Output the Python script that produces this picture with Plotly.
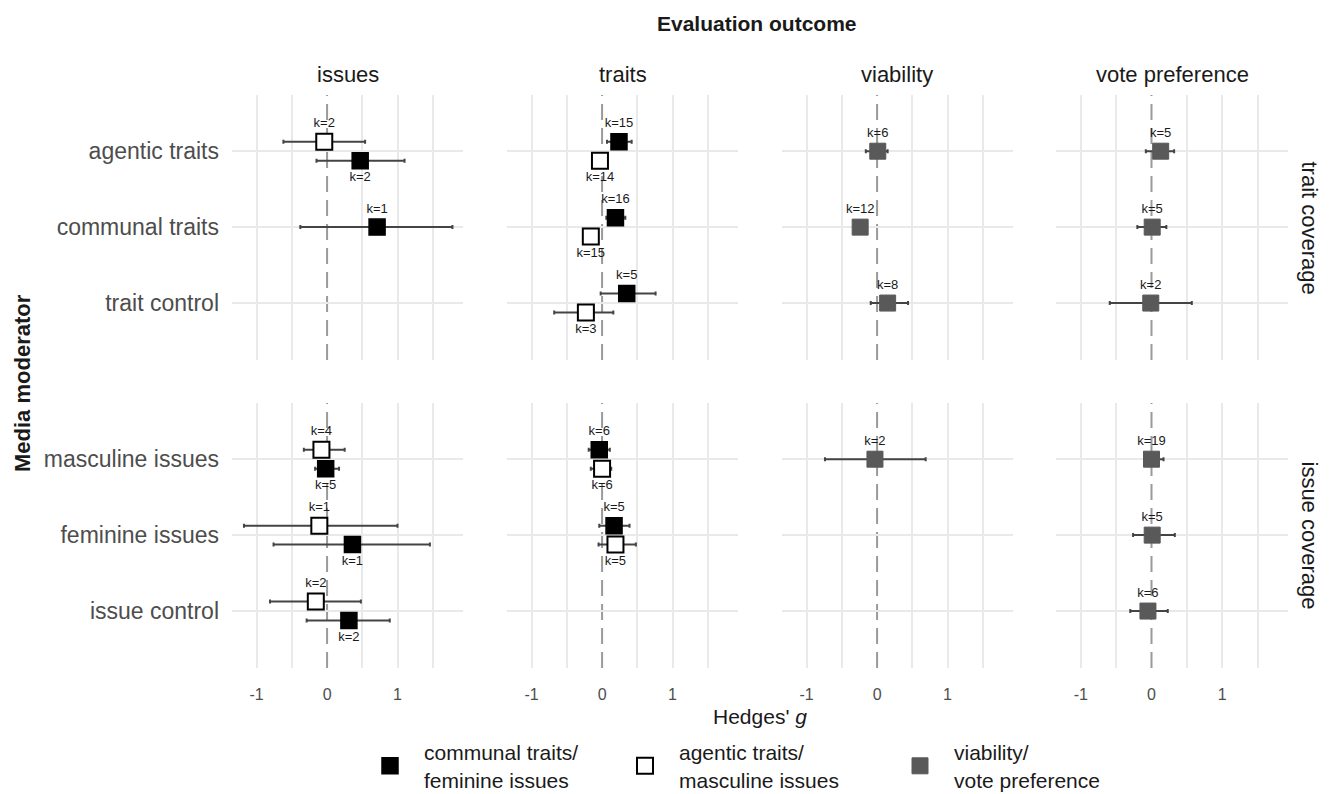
import plotly.graph_objects as go

# ---------------- data ----------------
outcomes = ["issues", "traits", "viability", "vote preference"]
row_groups = ["trait coverage", "issue coverage"]
moderators = [["agentic traits", "communal traits", "trait control"],
              ["masculine issues", "feminine issues", "issue control"]]

series_keys = ["communal", "agentic", "overall"]
series_labels = ["communal traits/<br>feminine issues",
                 "agentic traits/<br>masculine issues",
                 "viability/<br>vote preference"]

est_outcome = [
    "issues", "issues", "issues",
    "traits", "traits", "traits", "traits", "traits", "traits",
    "viability", "viability", "viability",
    "vote preference", "vote preference", "vote preference",
    "issues", "issues", "issues", "issues", "issues", "issues",
    "traits", "traits", "traits", "traits",
    "viability",
    "vote preference", "vote preference", "vote preference",
]
est_moderator = [
    "agentic traits", "agentic traits", "communal traits",
    "agentic traits", "agentic traits", "communal traits", "communal traits", "trait control", "trait control",
    "agentic traits", "communal traits", "trait control",
    "agentic traits", "communal traits", "trait control",
    "masculine issues", "masculine issues", "feminine issues", "feminine issues", "issue control", "issue control",
    "masculine issues", "masculine issues", "feminine issues", "feminine issues",
    "masculine issues",
    "masculine issues", "feminine issues", "issue control",
]
est_series = [
    "agentic", "communal", "communal",
    "communal", "agentic", "communal", "agentic", "communal", "agentic",
    "overall", "overall", "overall",
    "overall", "overall", "overall",
    "agentic", "communal", "agentic", "communal", "agentic", "communal",
    "communal", "agentic", "communal", "agentic",
    "overall",
    "overall", "overall", "overall",
]
est_g = [
    -0.04, 0.47, 0.71,
    0.24, -0.03, 0.19, -0.16, 0.35, -0.23,
    0.01, -0.24, 0.15,
    0.13, 0.01, -0.01,
    -0.08, -0.02, -0.11, 0.36, -0.16, 0.31,
    -0.04, 0.00, 0.17, 0.19,
    -0.03,
    0.00, 0.01, -0.05,
]
est_lo = [
    -0.62, -0.15, -0.38,
    0.07, -0.11, 0.06, -0.23, -0.02, -0.68,
    -0.16, -0.30, -0.09,
    -0.08, -0.20, -0.59,
    -0.33, -0.17, -1.18, -0.76, -0.81, -0.29,
    -0.19, -0.16, -0.04, -0.05,
    -0.74,
    -0.10, -0.26, -0.30,
]
est_hi = [
    0.54, 1.10, 1.78,
    0.42, 0.05, 0.33, -0.09, 0.76, 0.16,
    0.15, -0.18, 0.44,
    0.32, 0.21, 0.57,
    0.25, 0.17, 1.00, 1.46, 0.48, 0.89,
    0.11, 0.13, 0.39, 0.48,
    0.69,
    0.17, 0.33, 0.23,
]
est_k = [
    2, 2, 1,
    15, 14, 16, 15, 5, 3,
    6, 12, 8,
    5, 5, 2,
    4, 5, 1, 1, 2, 2,
    6, 6, 5, 5,
    2,
    19, 5, 6,
]

# series drawn on the upper side of the dodge, per outcome panel
dodge_top = {"issues": "agentic", "traits": "communal"}

# ---------------- styling ----------------
W, H = 1329, 794
FONT = "Liberation Sans, Arial, sans-serif"
col_px = [(232, 463), (507, 738), (782, 1013), (1056, 1288)]
row_px = [(95, 360), (403, 668)]
DODGE = 0.125
styles = {
    "communal": dict(color="#000000", line=dict(color="#000000", width=1.5)),
    "agentic": dict(color="#ffffff", line=dict(color="#000000", width=2)),
    "overall": dict(color="#595959", line=dict(color="#595959", width=1)),
}
GRID = "#e9e9e9"

fig = go.Figure()
layout = dict(
    width=W, height=H, autosize=False,
    margin=dict(l=0, r=0, t=0, b=0, autoexpand=False),
    paper_bgcolor="white", plot_bgcolor="white",
    font=dict(family=FONT, color="#1a1a1a"),
    showlegend=True,
)
shapes = []
annotations = []

for r in range(2):
    for c in range(4):
        i = r * 4 + c + 1
        xs = "" if i == 1 else str(i)
        xd = [col_px[c][0] / W, col_px[c][1] / W]
        yd = [1 - row_px[r][1] / H, 1 - row_px[r][0] / H]
        layout["xaxis" + xs] = dict(
            domain=xd, anchor="y" + xs, range=[-1.35, 1.93],
            tickvals=[-1, 0, 1], ticktext=["-1", "0", "1"],
            showticklabels=(r == 1), ticks="", ticklabelstandoff=15,
            tickfont=dict(size=16, color="#4d4d4d"),
            showgrid=False, zeroline=False,
            minor=dict(tickvals=[-1, -0.5, 0.5, 1, 1.5], showgrid=True,
                       gridcolor=GRID, gridwidth=1.6, ticks=""),
            showline=False,
        )
        layout["yaxis" + xs] = dict(
            domain=yd, anchor="x" + xs, range=[3.75, 0.26],
            tickvals=[1, 2, 3], ticktext=moderators[r],
            showticklabels=(c == 0), ticks="", ticklabelstandoff=12,
            tickfont=dict(size=23, color="#4d4d4d"),
            showgrid=True, gridcolor=GRID, gridwidth=1.6, zeroline=False,
            showline=False,
        )
        shapes.append(dict(type="line", xref="x" + xs, yref="y" + xs + " domain",
                           x0=0, x1=0, y0=0, y1=1, layer="below",
                           line=dict(color="#9a9a9a", width=2, dash="16px,8px")))

        outcome = outcomes[c]
        for s in series_keys:
            idx = [j for j in range(len(est_g))
                   if est_outcome[j] == outcome and est_series[j] == s
                   and est_moderator[j] in moderators[r]]
            if not idx:
                continue
            xv, yv, em, ep, tx, tp = [], [], [], [], [], []
            for j in idx:
                pos = moderators[r].index(est_moderator[j]) + 1
                n_here = sum(1 for q in range(len(est_g))
                             if est_outcome[q] == outcome and est_moderator[q] == est_moderator[j])
                if n_here > 1:
                    top = dodge_top.get(outcome) == s
                    yy = pos - DODGE if top else pos + DODGE
                    tp.append("top center" if top else "bottom center")
                else:
                    yy = pos
                    tp.append("top center")
                xv.append(est_g[j])
                yv.append(yy)
                em.append(est_g[j] - est_lo[j])
                ep.append(est_hi[j] - est_g[j])
                tx.append("k=%d" % est_k[j])
            fig.add_trace(go.Scatter(
                x=xv, y=yv, xaxis="x" + xs, yaxis="y" + xs,
                mode="markers+text", text=tx, textposition=tp,
                textfont=dict(size=13, color="#1a1a1a", family=FONT),
                marker=dict(symbol="square", size=16, **styles[s]),
                error_x=dict(type="data", symmetric=False, array=ep, arrayminus=em,
                             color="#444444", thickness=2, width=2),
                showlegend=False, hoverinfo="skip", cliponaxis=False,
            ))

# legend entries (one legend per key for exact placement)
leg_x = [356, 611, 886]
for n, s in enumerate(series_keys):
    lname = "legend" if n == 0 else "legend%d" % (n + 1)
    fig.add_trace(go.Scatter(
        x=[None], y=[None], mode="markers", name=series_labels[n],
        marker=dict(symbol="square", size=16, **styles[s]),
        legend=lname, showlegend=True,
    ))
    layout[lname] = dict(
        x=leg_x[n] / W, xanchor="left", y=1 - 766 / H, yanchor="middle",
        orientation="h", bgcolor="rgba(0,0,0,0)", borderwidth=0,
        font=dict(size=21, color="#1a1a1a", family=FONT), valign="middle",
        itemsizing="trace", itemwidth=58,
    )

# titles, strips
def ann(text, x, y, size, angle=0):
    return dict(text=text, x=x / W, y=1 - y / H, xref="paper", yref="paper",
                xanchor="center", yanchor="middle", showarrow=False, textangle=angle,
                font=dict(size=size, color="#1a1a1a"))

annotations.append(ann("<b>Evaluation outcome</b>", 757, 23, 21))
for c in range(4):
    annotations.append(ann(outcomes[c], (col_px[c][0] + col_px[c][1]) / 2, 74, 22))
for r in range(2):
    annotations.append(ann(row_groups[r], 1309, (row_px[r][0] + row_px[r][1]) / 2, 22, 90))
annotations.append(ann("<b>Media moderator</b>", 22, 383, 22, -90))
annotations.append(ann("Hedges' <i>g</i>", 760, 716, 21))

layout["shapes"] = shapes
layout["annotations"] = annotations
fig.update_layout(**layout)
fig.write_html("out.html")
